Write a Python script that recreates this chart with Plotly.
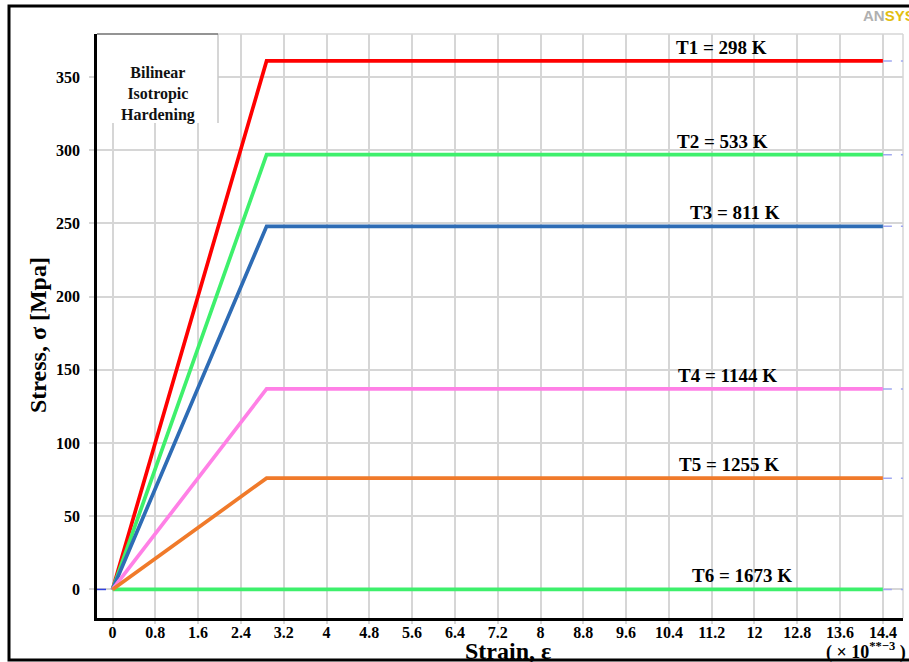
import plotly.graph_objects as go

# ---- data ----
series_names = ["T1 = 298 K", "T2 = 533 K", "T3 = 811 K", "T4 = 1144 K", "T5 = 1255 K", "T6 = 1673 K"]
yield_strain = [2.88, 2.88, 2.88, 2.88, 2.88, 2.88]   # x 10^-3
yield_stress = [361, 297, 248, 137, 76, 0]             # MPa
end_strain = 14.4
x_tick_vals = [0, 0.8, 1.6, 2.4, 3.2, 4, 4.8, 5.6, 6.4, 7.2, 8, 8.8, 9.6, 10.4, 11.2, 12, 12.8, 13.6, 14.4]
x_tick_text = ["0", "0.8", "1.6", "2.4", "3.2", "4", "4.8", "5.6", "6.4", "7.2", "8", "8.8",
               "9.6", "10.4", "11.2", "12", "12.8", "13.6", "14.4"]
y_tick_vals = [0, 50, 100, 150, 200, 250, 300, 350]

# ---- styles ----
colors = ["#ff0000", "#3ef06c", "#2e6cb5", "#ff80e6", "#f07a2a", "#3ef06c"]
label_x = [11.39, 11.41, 11.64, 11.5, 11.52, 11.76]
x_range = [-0.29, 14.776]
y_range = [-19.5, 379.4]
FONT = "Liberation Serif"

fig = go.Figure()

# dashed extensions to the right edge
for s in yield_stress:
    fig.add_trace(go.Scatter(x=[end_strain, x_range[1]], y=[s, s], mode="lines",
                             line=dict(color="#a0a8f0", width=1.5, dash="dash"),
                             hoverinfo="skip", showlegend=False))
# dashed extension at origin to the left
fig.add_trace(go.Scatter(x=[x_range[0], 0], y=[0, 0], mode="lines",
                         line=dict(color="#3040e0", width=1.5, dash="dash"),
                         hoverinfo="skip", showlegend=False))

order = [5, 0, 1, 2, 3, 4]
for i in order:
    fig.add_trace(go.Scatter(
        x=[0, yield_strain[i], end_strain],
        y=[0, yield_stress[i], yield_stress[i]],
        mode="lines", name=series_names[i],
        line=dict(color=colors[i], width=3.7),
        showlegend=False))

for i, name in enumerate(series_names):
    fig.add_annotation(x=label_x[i], y=yield_stress[i], xref="x", yref="y",
                       text=name, showarrow=False, xanchor="center", yanchor="bottom", yshift=1,
                       font=dict(family=FONT, size=19, color="black", weight="bold"))

W, H = 909, 662
L, R, T, B = 97, 6, 34, 44
PW, PH = W - L - R, H - T - B
def px(x):
    return (x - L) / PW
def py(y):
    return (H - B - y) / PH

# legend box
fig.add_shape(type="rect", xref="paper", yref="paper", x0=px(97), x1=px(218), y0=py(123), y1=py(34),
              fillcolor="white", line=dict(width=0), layer="above")
fig.add_shape(type="line", xref="paper", yref="paper", x0=px(218), x1=px(218), y0=py(123), y1=py(34),
              line=dict(color="#c8c8c8", width=1.5), layer="above")
fig.add_shape(type="line", xref="paper", yref="paper", x0=px(97), x1=px(218), y0=py(34), y1=py(34),
              line=dict(color="#707070", width=1.5), layer="above")
fig.add_annotation(x=px(158), y=py(94), xref="paper", yref="paper", xanchor="center", yanchor="middle",
                   text="Bilinear<br>Isotropic<br>Hardening", showarrow=False,
                   font=dict(family=FONT, size=16, color="#111", weight="bold"))

# plot area border (top/right)
fig.add_shape(type="line", xref="paper", yref="paper", x0=px(218), x1=1, y0=1, y1=1,
              line=dict(color="#d6d6d6", width=1.5), layer="below")
fig.add_shape(type="line", xref="paper", yref="paper", x0=1, x1=1, y0=0, y1=1,
              line=dict(color="#d6d6d6", width=1.5), layer="below")

# outer frame
fig.add_shape(type="rect", xref="paper", yref="paper", x0=px(9), x1=px(914), y0=py(660), y1=py(6),
              line=dict(color="black", width=3), fillcolor="rgba(0,0,0,0)", layer="above")

# axis titles
fig.add_annotation(x=px(508), y=py(651), xref="paper", yref="paper", text="Strain, ε",
                   xanchor="center", yanchor="middle",
                   showarrow=False, font=dict(family=FONT, size=24, color="black", weight="bold"))
fig.add_annotation(x=px(38), y=py(335), xref="paper", yref="paper", text="Stress, σ [Mpa]",
                   xanchor="center", yanchor="middle",
                   showarrow=False, textangle=-90,
                   font=dict(family=FONT, size=24, color="black", weight="bold"))
fig.add_annotation(x=px(866), y=py(651), xref="paper", yref="paper",
                   xanchor="center", yanchor="middle",
                   text="( × 10<sup>**−3</sup> )", showarrow=False,
                   font=dict(family=FONT, size=18, color="black", weight="bold"))
# logo
fig.add_annotation(x=px(861), y=py(15), xref="paper", yref="paper", xanchor="left", yanchor="middle",
                   text="<span style='color:#b0b0b0'>AN</span><span style='color:#e2bd10'>SYS</span>",
                   showarrow=False, font=dict(family="Liberation Sans", size=15, weight="bold"))

fig.update_xaxes(range=x_range, tickvals=x_tick_vals, ticktext=x_tick_text,
                 showgrid=True, gridcolor="#d6d6d6", gridwidth=1.5,
                 showline=True, linecolor="black", linewidth=2.5,
                 ticks="outside", ticklen=3, tickcolor="#d6d6d6", tickwidth=1.5,
                 zeroline=False, ticklabelstandoff=-5,
                 tickfont=dict(family=FONT, size=16, color="black", weight="bold"))
fig.update_yaxes(range=y_range, tickvals=y_tick_vals,
                 showgrid=True, gridcolor="#d6d6d6", gridwidth=1.5,
                 showline=True, linecolor="black", linewidth=2.5,
                 ticks="outside", ticklen=5, tickcolor="#d6d6d6", tickwidth=1.5,
                 zeroline=False, ticklabelstandoff=6,
                 tickfont=dict(family=FONT, size=16, color="black", weight="bold"))

fig.update_layout(width=W, height=H, margin=dict(l=L, r=R, t=T, b=B),
                  plot_bgcolor="white", paper_bgcolor="white", showlegend=False)

fig.write_html("out.html", config={"displayModeBar": False},
               post_script="document.body.style.margin='0';document.body.style.overflow='hidden';")
